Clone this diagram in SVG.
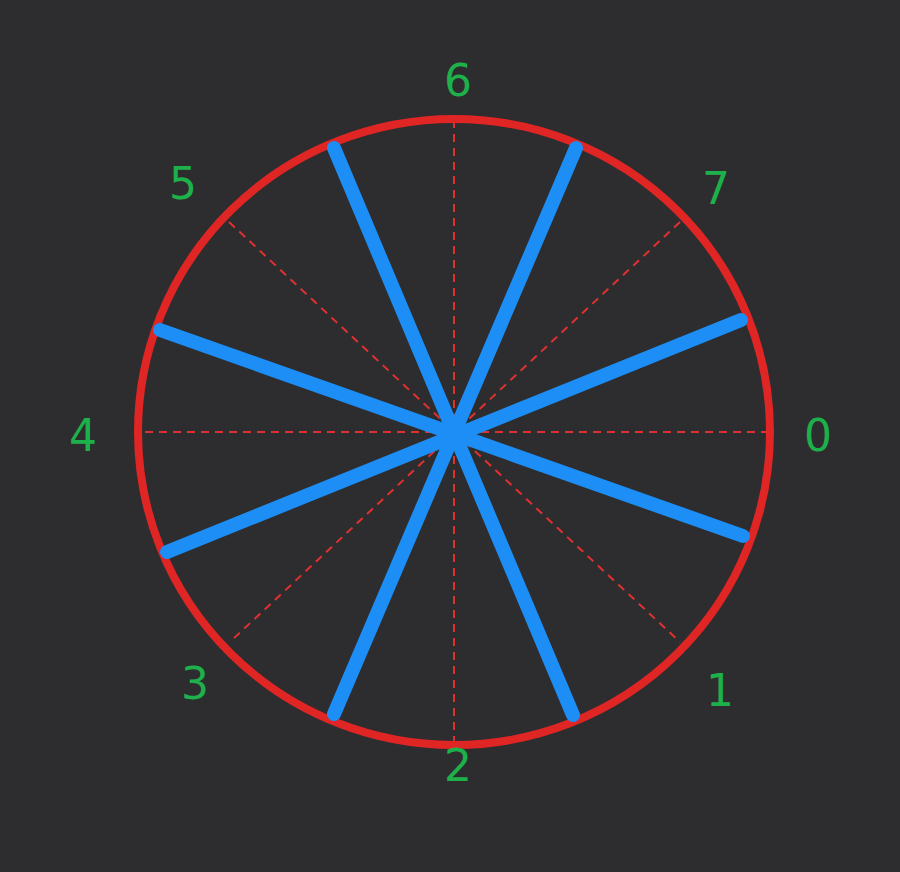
<svg xmlns="http://www.w3.org/2000/svg" width="900" height="872" viewBox="0 0 900 872">
<style>
.dash{stroke:#e03131;stroke-width:2;stroke-dasharray:8 6;fill:none}
.spoke{stroke:#1c8ef5;stroke-width:14;stroke-linecap:round;fill:none}
.lbl{fill:#1eb04a;font-family:"Comic Sans MS","DejaVu Sans",sans-serif;font-size:44px;text-anchor:middle;dominant-baseline:central}
</style>
<rect width="900" height="872" fill="#2d2d2f"/>
<g id="guides">
<line class="dash" x1="145" y1="432" x2="770" y2="432"/>
<line class="dash" x1="454" y1="120" x2="454" y2="745"/>
<line class="dash" x1="229" y1="222" x2="680" y2="642"/>
<line class="dash" x1="680" y1="222" x2="232" y2="640"/>
</g>
<g id="circle">
<ellipse cx="454" cy="432" rx="316" ry="313" fill="none" stroke="#e02525" stroke-width="8"/>
</g>
<g id="connectors">
<line class="spoke" x1="334" y1="148" x2="573" y2="715"/>
<line class="spoke" x1="576" y1="148" x2="334" y2="714"/>
<line class="spoke" x1="160" y1="330" x2="743" y2="536"/>
<line class="spoke" x1="167" y1="552" x2="741" y2="320"/>
</g>
<g id="labels">
<text id="l6" class="lbl" x="458" y="80">6</text>
<text id="l7" class="lbl" x="716" y="188">7</text>
<text id="l0" class="lbl" x="818" y="435">0</text>
<text id="l1" class="lbl" x="720" y="690">1</text>
<text id="l2" class="lbl" x="458" y="765">2</text>
<text id="l3" class="lbl" x="195" y="683">3</text>
<text id="l4" class="lbl" x="83" y="435">4</text>
<text id="l5" class="lbl" x="183" y="183">5</text>
</g>
</svg>
